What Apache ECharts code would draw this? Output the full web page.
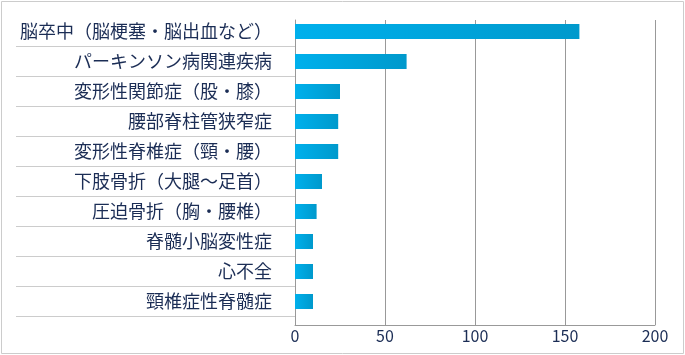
<!DOCTYPE html>
<html>
<head>
<meta charset="utf-8">
<script src="https://cdn.jsdelivr.net/npm/echarts@6/dist/echarts.min.js"></script>
<style>
html,body{margin:0;padding:0;background:#fff;}
#c{width:685px;height:355px;}
</style>
</head>
<body>
<div id="c"></div>
<script>
var categories = ["脳卒中（脳梗塞・脳出血など）","パーキンソン病関連疾病","変形性関節症（股・膝）","腰部脊柱管狭窄症","変形性脊椎症（頸・腰）","下肢骨折（大腿～足首）","圧迫骨折（胸・腰椎）","脊髄小脳変性症","心不全","頸椎症性脊髄症"];
var values = [158, 62, 25, 24, 24, 15, 12, 10, 10, 10];
var axisMin = 0, axisMax = 200, axisStep = 50;

var navy = '#1b2d55';
var chart = echarts.init(document.getElementById('c'), null, {renderer:'canvas'});
chart.setOption({
  animation:false,
  graphic:[{type:'rect', shape:{x:1.5,y:1.5,width:682,height:352}, style:{fill:'#fff', stroke:'#cccccc', lineWidth:1}, z:-10}],
  grid:[
    {left:295, width:360, top:16.5, height:300},
    {left:295, width:360, top:20, height:305},
    {left:16, width:279, top:46.5, height:270}
  ],
  xAxis:[
    {gridIndex:0, type:'value', min:axisMin, max:axisMax, interval:axisStep, show:false},
    {gridIndex:1, type:'value', min:axisMin, max:axisMax, interval:axisStep,
      axisLine:{show:true, lineStyle:{color:'#999', width:1}},
      axisTick:{show:false},
      splitLine:{show:true, lineStyle:{color:'#999', width:1}},
      axisLabel:{color:navy, fontSize:16, margin:3, fontFamily:'Noto Sans CJK JP'}},
    {gridIndex:2, type:'value', show:false}
  ],
  yAxis:[
    {gridIndex:0, type:'category', data:categories, inverse:true,
      axisLine:{show:false}, axisTick:{show:false}, splitLine:{show:false},
      axisLabel:{color:navy, fontSize:18, margin:23, fontFamily:'Noto Sans CJK JP'}},
    {gridIndex:1, type:'value', min:0, max:1,
      axisLine:{show:true, lineStyle:{color:'#999', width:1}},
      axisTick:{show:false}, axisLabel:{show:false}, splitLine:{show:false}},
    {gridIndex:2, type:'category', data:categories, boundaryGap:false,
      axisLine:{show:false}, axisTick:{show:false}, axisLabel:{show:false},
      splitLine:{show:true, interval:0, lineStyle:{color:'#cccccc', width:1}}}
  ],
  series:[{
    type:'bar', xAxisIndex:0, yAxisIndex:0, data:values, barWidth:15,
    itemStyle:{color:new echarts.graphic.LinearGradient(0,0,1,0,[{offset:0,color:'#00b0ec'},{offset:1,color:'#0099cc'}])}
  }]
});
</script>
</body>
</html>
